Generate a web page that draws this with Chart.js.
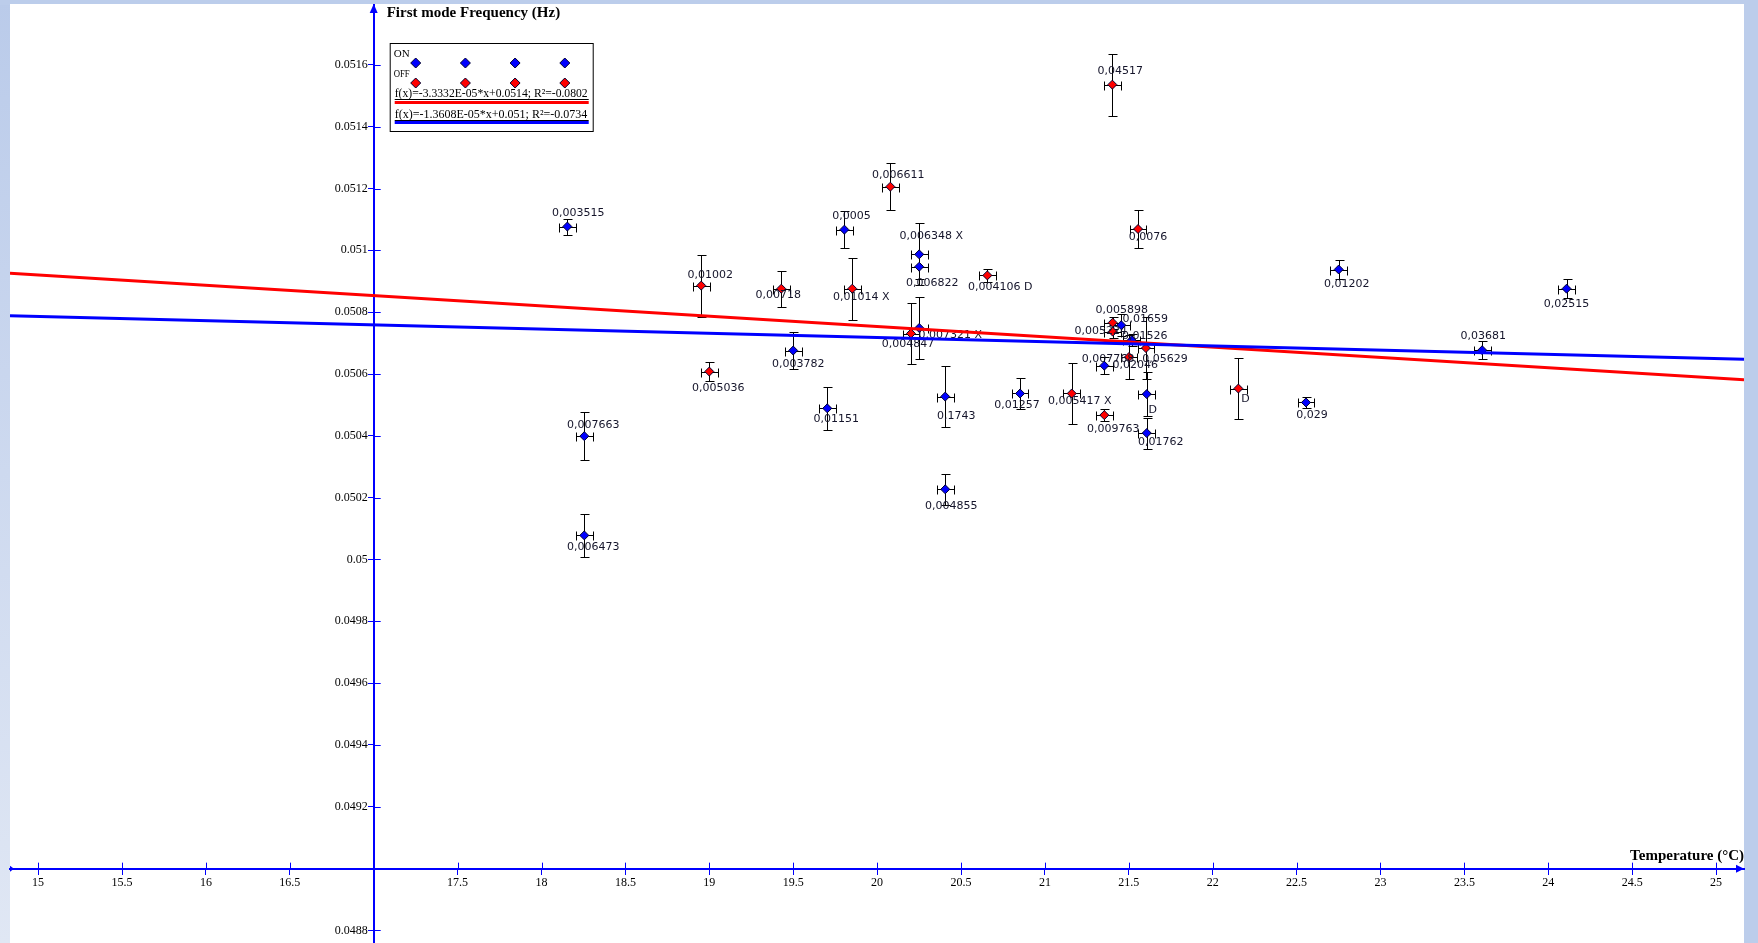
<!DOCTYPE html>
<html>
<head>
<meta charset="utf-8">
<title>First mode Frequency vs Temperature</title>
<script src="https://cdn.jsdelivr.net/npm/chart.js@4.4.1/dist/chart.umd.min.js"></script>
<style>
  html, body { margin: 0; padding: 0; background: #ffffff; overflow: hidden; }
  canvas { display: block; }
</style>
</head>
<body>
<canvas id="chart" width="1758" height="943"></canvas>
<script>
// ---- Measurements: ON series ----
const onTemp = [18.154, 18.255, 18.255, 19.5, 19.703, 19.805, 20.251, 20.251, 20.251, 20.406, 20.406,
                20.852, 21.354, 21.455, 21.517, 21.607, 21.607, 22.556, 22.751, 23.606, 24.109];
const onFreq = [0.051077, 0.050399, 0.050078, 0.050676, 0.050489, 0.051067, 0.050987, 0.050947, 0.050749, 0.050527, 0.050227,
                0.050537, 0.050627, 0.050758, 0.050709, 0.050535, 0.050409, 0.050508, 0.050938, 0.050677, 0.050876];
const onFreqErr = [0.000026, 0.000078, 0.00007, 0.00006, 0.00007, 0.00006, 0.0001, 0.00004, 0.0001, 0.0001, 0.00005,
                   0.00005, 0.000027, 0.000035, 0.00002, 0.00007, 0.00005, 0.000018, 0.00003, 0.00003, 0.00003];
const onLabels = ['0,003515', '0,007663', '0,006473', '0,003782', '0,01151', '0,0005', '0,006348 X', '0,006822', '0,007321 X', '0,1743', '0,004855',
                  '0,01257', '0,02046', '0,01659', '0,01526', 'D', '0,01762', '0,029', '0,01202', '0,03681', '0,02515'];

// ---- Measurements: OFF series ----
const offTemp = [18.952, 19.0, 19.429, 19.852, 20.079, 20.202, 20.657, 21.16, 21.354, 21.402, 21.404,
                 21.404, 21.501, 21.555, 21.602, 22.153];
const offFreq = [0.050886, 0.050608, 0.050876, 0.050876, 0.051206, 0.050731, 0.050919, 0.050537, 0.050467, 0.051536, 0.050766,
                 0.050737, 0.050655, 0.051069, 0.050684, 0.050553];
const offFreqErr = [0.0001, 0.00003, 0.000058, 0.0001, 0.000077, 0.0001, 0.00002, 0.0001, 0.00002, 0.0001, 0.00002,
                    0.00002, 0.00007, 0.00006, 0.0001, 0.0001];
const offLabels = ['0,01002', '0,005036', '0,00718', '0,01014 X', '0,006611', '0,004847', '0,004106 D', '0,005417 X', '0,009763', '0,04517', '0,005898',
                   '0,005224', '0,007768', '0,0076', '0,05629', 'D'];

// temperature uncertainty, same for every reading
const tempErr = 0.05;

// ---- Linear fits f(x) = slope*x + intercept (ON, OFF) ----
const fitSlope = [-1.3608e-5, -3.3332e-5];
const fitIntercept = [0.05099, 0.05142];
const fitR2 = [-0.0734, -0.0802];

// ---- Axes ----
const tempRange = [14.8325, 25.1663];
const freqRange = [0.0487595, 0.0517936];
const tempStep = 0.5;
const freqStep = 0.0002;
const tempCross = 17;     // where the frequency axis crosses
const freqCross = 0.049;  // where the temperature axis crosses

// label placement around each marker (pixels), kept apart from the values
const onLabelShift = [[11,-13],[9,-11],[9,12],[5,14],[9,11],[7,-13],[12,-18],[13,16],[31,7],[11,20],[6,17],
                      [-3,12],[31,-1],[24,-6],[13,-4],[6,16],[14,9],[6,13],[8,15],[1,-14],[0,15]];
const offLabelShift = [[9,-10],[9,17],[-3,6],[9,8],[8,-12],[-3,11],[13,12],[8,8],[9,14],[8,-13],[9,-13],
                       [-12,-1],[-21,2],[10,8],[19,11],[7,11]];

const BLUE = '#0000ff';
const RED = '#ff0000';
const SERIF = '"Liberation Serif", "Times New Roman", serif';
const SANS = '"DejaVu Sans", Verdana, sans-serif';

function fmtE(v) {
  const [m, e] = v.toExponential(4).split('e');
  const n = parseInt(e, 10);
  return m + 'E' + (n < 0 ? '-' : '+') + String(Math.abs(n)).padStart(2, '0');
}
function fitText(k) {
  return 'f(x)=' + fmtE(fitSlope[k]) + '*x+' + parseFloat(fitIntercept[k].toPrecision(3)) + '; R\u00b2=' + fitR2[k];
}
function fitLine(k) {
  return tempRange.map(t => ({ x: t, y: fitSlope[k] * t + fitIntercept[k] }));
}

const onPoints = onTemp.map((t, i) => ({ x: t, y: onFreq[i] }));
const offPoints = offTemp.map((t, i) => ({ x: t, y: offFreq[i] }));

// axes sit inside the plot, so they reserve no outer padding
function noScalePadding(scale) {
  scale.paddingTop = 0;
  scale.paddingBottom = 0;
  scale.paddingLeft = 0;
  scale.paddingRight = 0;
}

// page frame and white plotting panel
const framePlugin = {
  id: 'frame',
  beforeDraw(chart) {
    const { ctx, width, height, chartArea } = chart;
    ctx.save();
    ctx.fillStyle = '#bccdeb';
    ctx.fillRect(0, 0, width, height);
    const g = ctx.createLinearGradient(0, 0, 0, height);
    g.addColorStop(0, '#bacbea');
    g.addColorStop(1, '#e0e7f4');
    ctx.fillStyle = g;
    ctx.fillRect(0, chartArea.top, chartArea.left, height);
    ctx.fillStyle = '#ffffff';
    ctx.fillRect(chartArea.left, chartArea.top - 1, chartArea.right - chartArea.left, height);
    ctx.restore();
  }
};

// error bars (both directions) under the markers
const errorBarPlugin = {
  id: 'errorBars',
  beforeDatasetsDraw(chart) {
    const { ctx } = chart;
    const xs = chart.scales.x, ys = chart.scales.y;
    const sets = [[onTemp, onFreq, onFreqErr], [offTemp, offFreq, offFreqErr]];
    ctx.save();
    ctx.strokeStyle = '#000000';
    ctx.lineWidth = 1;
    const cap = 4;
    sets.forEach(([tx, fy, fe]) => {
      tx.forEach((t, i) => {
        const px = Math.round(xs.getPixelForValue(t)) + 0.5;
        const py = Math.round(ys.getPixelForValue(fy[i])) + 0.5;
        const yTop = Math.round(ys.getPixelForValue(fy[i] + fe[i])) + 0.5;
        const yBot = Math.round(ys.getPixelForValue(fy[i] - fe[i])) + 0.5;
        const xL = Math.round(xs.getPixelForValue(t - tempErr)) + 0.5;
        const xR = Math.round(xs.getPixelForValue(t + tempErr)) + 0.5;
        ctx.beginPath();
        ctx.moveTo(px, yTop); ctx.lineTo(px, yBot);
        ctx.moveTo(px - cap, yTop); ctx.lineTo(px + cap + 1, yTop);
        ctx.moveTo(px - cap, yBot); ctx.lineTo(px + cap + 1, yBot);
        ctx.moveTo(xL, py); ctx.lineTo(xR, py);
        ctx.moveTo(xL, py - cap); ctx.lineTo(xL, py + cap + 1);
        ctx.moveTo(xR, py - cap); ctx.lineTo(xR, py + cap + 1);
        ctx.stroke();
      });
    });
    ctx.restore();
  }
};

// value labels next to each marker
const pointLabelPlugin = {
  id: 'pointLabels',
  afterDatasetDraw(chart, args) {
    const ds = chart.data.datasets[args.index];
    if (!ds.pointTexts) return;
    const { ctx } = chart;
    const meta = args.meta;
    ctx.save();
    ctx.font = '11px ' + SANS;
    ctx.fillStyle = '#14142a';
    ctx.textAlign = 'center';
    ctx.textBaseline = 'middle';
    meta.data.forEach((el, i) => {
      const [dx, dy] = ds.pointShift[i];
      ctx.fillText(ds.pointTexts[i], el.x + dx, el.y + dy);
    });
    ctx.restore();
  }
};

function diamond(ctx, x, y, r, fill) {
  ctx.beginPath();
  ctx.moveTo(x, y - r); ctx.lineTo(x + r, y); ctx.lineTo(x, y + r); ctx.lineTo(x - r, y);
  ctx.closePath();
  ctx.fillStyle = fill; ctx.fill();
  ctx.lineWidth = 1; ctx.strokeStyle = '#000030'; ctx.stroke();
}

// crossing tick stubs, axis arrows, axis titles and the boxed legend
const axisDecorPlugin = {
  id: 'axisDecor',
  afterDraw(chart) {
    const { ctx, chartArea } = chart;
    const xs = chart.scales.x, ys = chart.scales.y;
    const ax = xs.getPixelForValue(tempCross);   // frequency axis position
    const ay = ys.getPixelForValue(freqCross);   // temperature axis position
    ctx.save();
    ctx.strokeStyle = BLUE;
    ctx.lineWidth = 1;
    ctx.beginPath();
    xs.ticks.forEach(t => {
      const p = Math.round(xs.getPixelForValue(t.value)) + 0.5;
      ctx.moveTo(p, ay - 6); ctx.lineTo(p, ay);
    });
    ys.ticks.forEach(t => {
      const p = Math.round(ys.getPixelForValue(t.value)) + 0.5;
      ctx.moveTo(ax, p); ctx.lineTo(ax + 7, p);
    });
    ctx.stroke();

    // arrows
    ctx.fillStyle = BLUE;
    ctx.beginPath();
    ctx.moveTo(ax, chartArea.top - 1); ctx.lineTo(ax + 4, chartArea.top + 8); ctx.lineTo(ax - 4, chartArea.top + 8);
    ctx.closePath(); ctx.fill();
    ctx.beginPath();
    ctx.moveTo(chartArea.right, ay); ctx.lineTo(chartArea.right - 8, ay - 4); ctx.lineTo(chartArea.right - 8, ay + 4);
    ctx.closePath(); ctx.fill();
    ctx.beginPath();
    ctx.moveTo(chartArea.left + 4, ay); ctx.lineTo(chartArea.left, ay - 3); ctx.lineTo(chartArea.left, ay + 3);
    ctx.closePath(); ctx.fill();

    // axis titles
    ctx.fillStyle = '#000000';
    ctx.font = 'bold 15px ' + SERIF;
    ctx.textBaseline = 'middle';
    ctx.textAlign = 'left';
    ctx.fillText(ys.options.title.text, ax + 13, chartArea.top + 8, 178);
    ctx.textAlign = 'right';
    ctx.fillText(xs.options.title.text, chartArea.right, ay - 13, 120);

    // legend
    const L = ax + 16, T = chartArea.top + 38, W = 203, H = 88;
    ctx.fillStyle = '#ffffff';
    ctx.fillRect(L, T, W, H);
    ctx.strokeStyle = '#000000';
    ctx.lineWidth = 1;
    ctx.strokeRect(L + 0.5, T + 0.5, W, H);
    const ds = chart.data.datasets;
    ctx.textAlign = 'left';
    ctx.textBaseline = 'middle';
    ctx.font = '11px ' + SERIF;
    ctx.fillStyle = '#000000';
    ctx.fillText(ds[0].label, L + 4, T + 11, 16);
    ctx.fillText(ds[1].label, L + 4, T + 31, 16);
    for (let k = 0; k < 4; k++) {
      diamond(ctx, L + 26 + k * 49.7, T + 20, 5, ds[0].backgroundColor);
      diamond(ctx, L + 26 + k * 49.7, T + 40, 5, ds[1].backgroundColor);
    }
    const rows = [[ds[3], 51, 59], [ds[2], 72, 79]];
    ctx.font = '12px ' + SERIF;
    rows.forEach(([d, ty, ly]) => {
      ctx.fillStyle = '#000000';
      ctx.fillText(d.label, L + 5, T + ty, 193);
      ctx.fillRect(L + 5, T + ty + 5, 194, 1);
      ctx.fillStyle = d.borderColor;
      ctx.fillRect(L + 5, T + ly - 1, 194, 3);
    });
    ctx.restore();
  }
};

new Chart(document.getElementById('chart'), {
  type: 'scatter',
  data: {
    datasets: [
      { label: 'ON', data: onPoints, backgroundColor: BLUE, borderColor: '#000030', borderWidth: 1,
        pointStyle: 'rectRot', pointRadius: 4.5, order: 2, pointTexts: onLabels, pointShift: onLabelShift },
      { label: 'OFF', data: offPoints, backgroundColor: RED, borderColor: '#000030', borderWidth: 1,
        pointStyle: 'rectRot', pointRadius: 4.5, order: 3, pointTexts: offLabels, pointShift: offLabelShift },
      { label: fitText(0), data: fitLine(0), showLine: true, borderColor: BLUE, borderWidth: 3,
        pointRadius: 0, fill: false, order: 0 },
      { label: fitText(1), data: fitLine(1), showLine: true, borderColor: RED, borderWidth: 3,
        pointRadius: 0, fill: false, order: 1 }
    ]
  },
  options: {
    responsive: false,
    devicePixelRatio: 1,
    animation: false,
    events: [],
    layout: { autoPadding: false, padding: { left: 10, right: 14, top: 5, bottom: 0 } },
    plugins: { legend: { display: false }, tooltip: { enabled: false } },
    scales: {
      x: {
        type: 'linear',
        min: tempRange[0], max: tempRange[1],
        position: { y: freqCross },
        afterFit: noScalePadding,
        title: { display: false, text: 'Temperature (\u00b0C)' },
        grid: { display: true, drawOnChartArea: false, drawTicks: true, tickLength: 5, color: BLUE, lineWidth: 1 },
        border: { display: true, color: BLUE, width: 2 },
        ticks: {
          stepSize: tempStep, includeBounds: false, autoSkip: false, maxRotation: 0, minRotation: 0,
          padding: 2, color: '#000000', font: { family: SERIF, size: 12 },
          callback: v => Math.abs(v - tempCross) < 1e-9 ? '' : String(parseFloat(Number(v).toFixed(1)))
        }
      },
      y: {
        type: 'linear',
        min: freqRange[0], max: freqRange[1],
        position: { x: tempCross },
        afterFit: noScalePadding,
        title: { display: false, text: 'First mode Frequency (Hz)' },
        grid: { display: true, drawOnChartArea: false, drawTicks: true, tickLength: 5, color: BLUE, lineWidth: 1 },
        border: { display: true, color: BLUE, width: 2 },
        ticks: {
          stepSize: freqStep, includeBounds: false, autoSkip: false,
          padding: 1, color: '#000000', font: { family: SERIF, size: 12 },
          // two trailing spaces keep the label clear of the tick mark
          callback: v => Math.abs(v - freqCross) < 1e-9 ? '' : String(parseFloat(Number(v).toFixed(4))) + '  '
        }
      }
    }
  },
  plugins: [framePlugin, errorBarPlugin, pointLabelPlugin, axisDecorPlugin]
});
</script>
</body>
</html>
